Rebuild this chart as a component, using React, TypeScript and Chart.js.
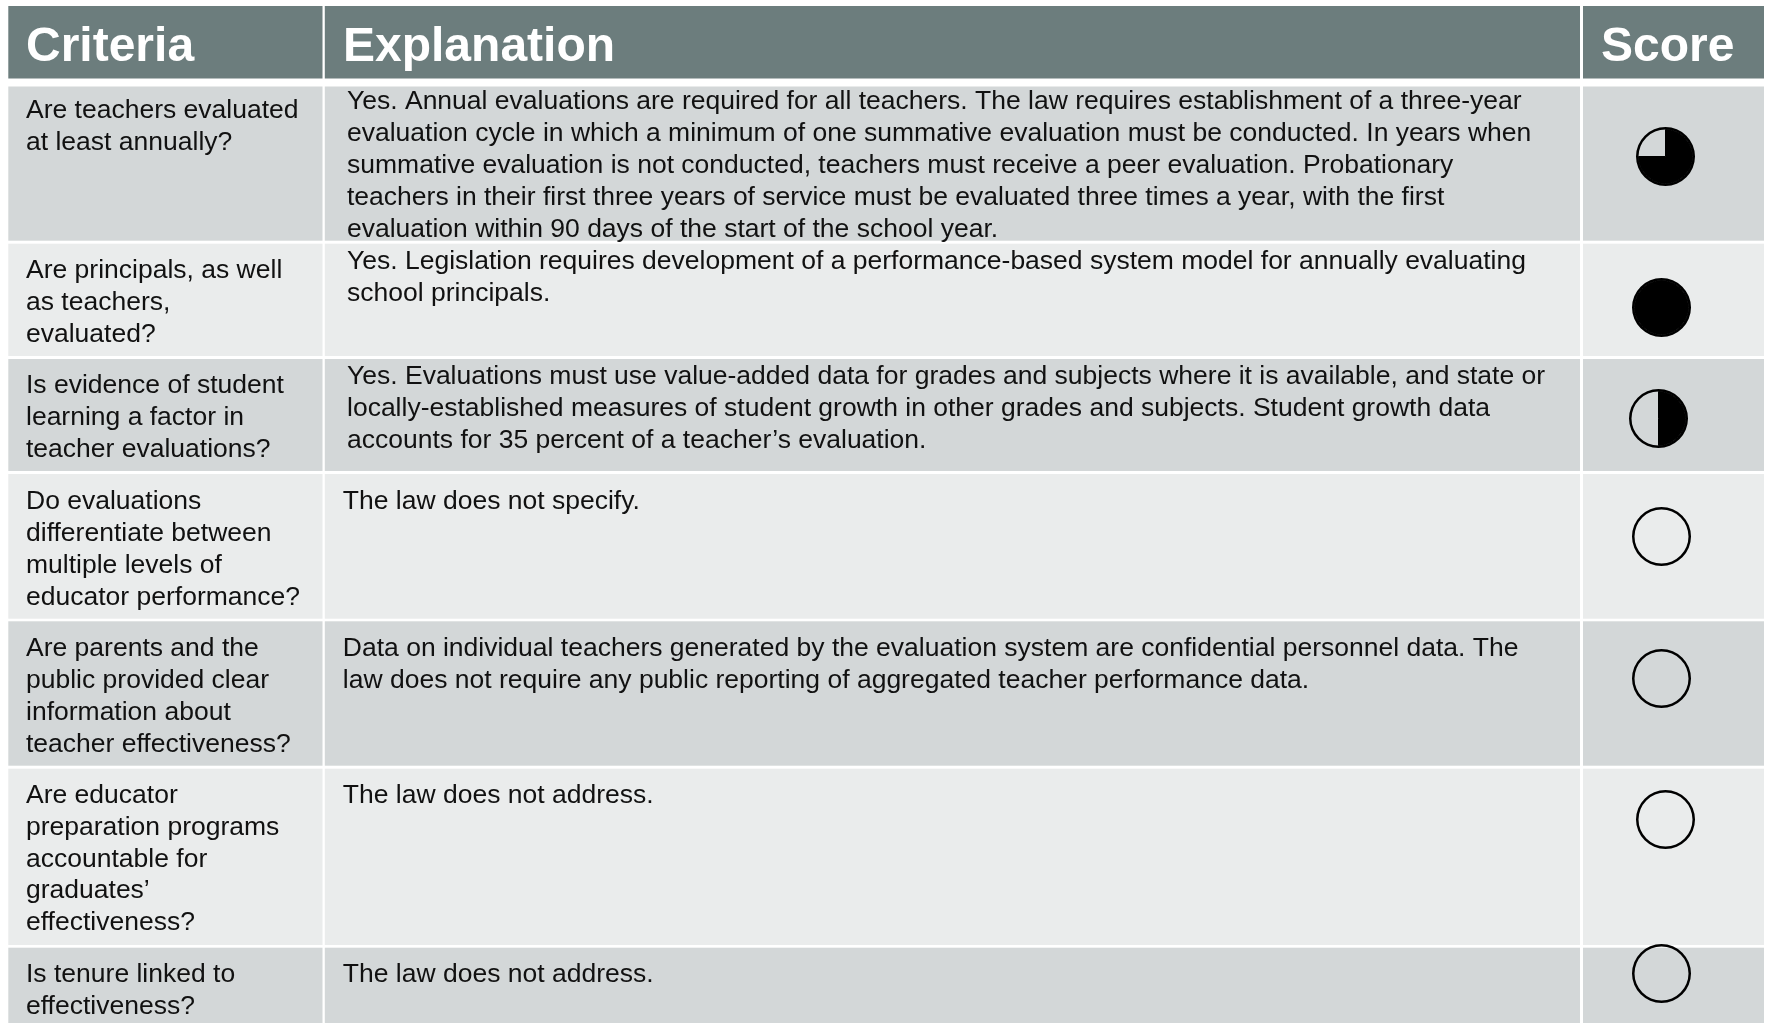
import React, { useEffect, useRef } from "react";
import { Chart, registerables } from "chart.js";

Chart.register(...registerables);

// ---- data ----
const headers = ["Criteria", "Explanation", "Score"];
const criteria = [
  ["Are teachers evaluated", "at least annually?"],
  ["Are principals, as well", "as teachers,", "evaluated?"],
  ["Is evidence of student", "learning a factor in", "teacher evaluations?"],
  ["Do evaluations", "differentiate between", "multiple levels of", "educator performance?"],
  ["Are parents and the", "public provided clear", "information about", "teacher effectiveness?"],
  ["Are educator", "preparation programs", "accountable for", "graduates\u2019", "effectiveness?"],
  ["Is tenure linked to", "effectiveness?"],
];
const explanations = [
  [
    "Yes. Annual evaluations are required for all teachers. The law requires establishment of a three-year",
    "evaluation cycle in which a minimum of one summative evaluation must be conducted. In years when",
    "summative evaluation is not conducted, teachers must receive a peer evaluation. Probationary",
    "teachers in their first three years of service must be evaluated three times a year, with the first",
    "evaluation within 90 days of the start of the school year.",
  ],
  [
    "Yes. Legislation requires development of a performance-based system model for annually evaluating",
    "school principals.",
  ],
  [
    "Yes. Evaluations must use value-added data for grades and subjects where it is available, and state or",
    "locally-established measures of student growth in other grades and subjects. Student growth data",
    "accounts for 35 percent of a teacher\u2019s evaluation.",
  ],
  ["The law does not specify."],
  [
    "Data on individual teachers generated by the evaluation system are confidential personnel data. The",
    "law does not require any public reporting of aggregated teacher performance data.",
  ],
  ["The law does not address."],
  ["The law does not address."],
];
const scores = [0.75, 1, 0.5, 0, 0, 0, 0];

// ---- layout (page pixels, used as the values of the hidden axes) ----
const W = 1768;
const H = 1023;
const colEdges = [[8.3, 322.5], [324.8, 1580], [1583, 1764]];
const headerEdge = [6, 78.5];
const rowEdges = [
  [86.5, 240.7], [243.7, 356], [359, 471], [474, 618.7],
  [621.3, 765.7], [768.7, 945], [947.7, 1023],
];
const headerTextX = [26, 343, 1601];
const headerBaseline = 61;
const critX = 26;
const critBaselines = [118.3, 278.4, 393.4, 509.2, 656, 802.9, 982];
const explX = [347, 347, 347, 342.8, 342.8, 342.8, 342.8];
const explBaselines = [109.3, 269.4, 384, 509.4, 656, 802.7, 982];
const leading = 31.85;
const ballCenters = [
  [1665.7, 156], [1661, 307.7], [1658, 418.3], [1661.7, 536.3],
  [1661.7, 678], [1665.7, 819], [1661.7, 973.3],
];
const BALL = 59;
const RING = 2.5;

const FONT = '"Liberation Sans", Arial, sans-serif';
const HEADER_BG = "#6c7d7d";
const ROW_DARK = "#d3d7d8";
const ROW_LIGHT = "#eaecec";
const TEXT = "#111111";

const tablePlugin = {
  id: "table",
  beforeDatasetsDraw(chart: any) {
    const { ctx, scales } = chart;
    const x = scales.x;
    const y = scales.y;
    const rect = (c: number[], r: number[], fill: string) => {
      ctx.fillStyle = fill;
      const x0 = x.getPixelForValue(c[0]);
      const x1 = x.getPixelForValue(c[1]);
      const y0 = y.getPixelForValue(r[0]);
      const y1 = y.getPixelForValue(r[1]);
      ctx.fillRect(x0, y0, x1 - x0, y1 - y0);
    };
    ctx.save();
    colEdges.forEach((c) => {
      rect(c, headerEdge, HEADER_BG);
      rowEdges.forEach((r, i) => rect(c, r, i % 2 === 0 ? ROW_DARK : ROW_LIGHT));
    });
    ctx.textBaseline = "alphabetic";
    ctx.textAlign = "left";
    ctx.fillStyle = "#ffffff";
    ctx.font = `bold 48px ${FONT}`;
    headers.forEach((h, i) =>
      ctx.fillText(h, x.getPixelForValue(headerTextX[i]), y.getPixelForValue(headerBaseline))
    );
    ctx.fillStyle = TEXT;
    ctx.font = `26.5px ${FONT}`;
    criteria.forEach((lines, i) =>
      lines.forEach((l, j) =>
        ctx.fillText(l, x.getPixelForValue(critX), y.getPixelForValue(critBaselines[i] + j * leading))
      )
    );
    explanations.forEach((lines, i) =>
      lines.forEach((l, j) =>
        ctx.fillText(l, x.getPixelForValue(explX[i]), y.getPixelForValue(explBaselines[i] + j * leading))
      )
    );
    ctx.restore();
  },
};

export default function App() {
  const tableRef = useRef<HTMLCanvasElement | null>(null);
  const ballRefs = useRef<(HTMLCanvasElement | null)[]>([]);

  useEffect(() => {
    document.body.style.margin = "0";
    document.body.style.overflow = "hidden";
    const table = new Chart(tableRef.current as HTMLCanvasElement, {
      type: "scatter",
      data: { datasets: [{ data: [], pointRadius: 0 }] },
      options: {
        animation: false,
        responsive: false,
        events: [],
        layout: { padding: 0 },
        plugins: { legend: { display: false }, tooltip: { enabled: false } },
        scales: {
          x: { type: "linear", min: 0, max: W, display: false },
          y: { type: "linear", min: 0, max: H, reverse: true, display: false },
        },
      },
      plugins: [tablePlugin],
    } as any);

    const pies = scores.map((s, i) => {
      const cv = ballRefs.current[i] as HTMLCanvasElement;
      cv.style.left = `${table.scales.x.getPixelForValue(ballCenters[i][0]) - BALL / 2}px`;
      cv.style.top = `${table.scales.y.getPixelForValue(ballCenters[i][1]) - BALL / 2}px`;
      return new Chart(cv, {
        type: "pie",
        data: {
          labels: ["Met", "Not met"],
          datasets: [
            {
              // outer ring of the ball
              data: [1, 0],
              backgroundColor: ["#000000", "rgba(0,0,0,0)"],
              borderWidth: 0,
              weight: RING,
            },
            {
              data: [s, 1 - s],
              backgroundColor: ["#000000", "rgba(0,0,0,0)"],
              borderColor: ["#000000", "rgba(0,0,0,0)"],
              borderWidth: [s > 0 ? 1 : 0, 0],
              weight: BALL / 2 - RING,
            },
          ],
        },
        options: {
          animation: false,
          responsive: false,
          events: [],
          layout: { padding: 0 },
          plugins: { legend: { display: false }, tooltip: { enabled: false } },
        },
      } as any);
    });

    return () => {
      pies.forEach((p) => p.destroy());
      table.destroy();
    };
  }, []);

  return (
    <div style={{ position: "relative", width: W, height: H, overflow: "hidden", background: "#fff" }}>
      <canvas ref={tableRef} width={W} height={H} style={{ position: "absolute", left: 0, top: 0, display: "block" }} />
      {scores.map((_, i) => (
        <canvas
          key={i}
          ref={(el) => {
            ballRefs.current[i] = el;
          }}
          width={BALL}
          height={BALL}
          style={{ position: "absolute", display: "block" }}
        />
      ))}
    </div>
  );
}
